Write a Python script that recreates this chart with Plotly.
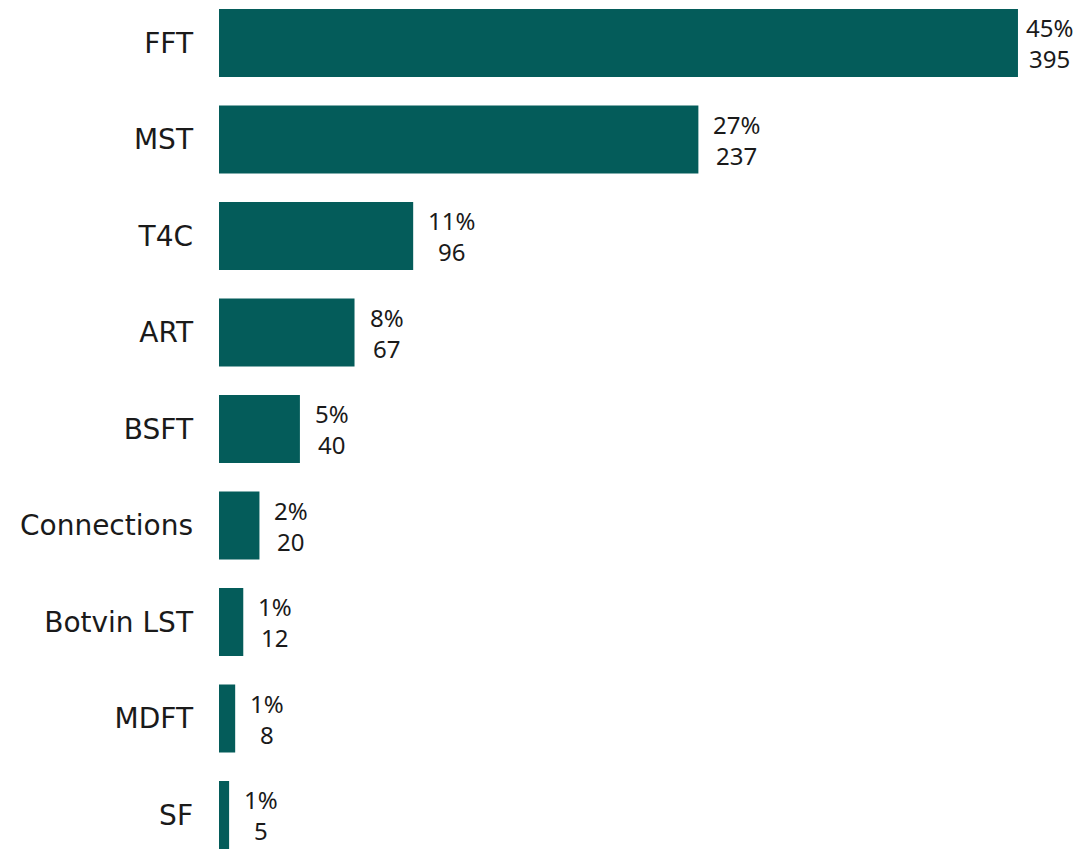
import plotly.graph_objects as go

categories = ["FFT", "MST", "T4C", "ART", "BSFT", "Connections", "Botvin LST", "MDFT", "SF"]
counts = [395, 237, 96, 67, 40, 20, 12, 8, 5]
percents = ["45%", "27%", "11%", "8%", "5%", "2%", "1%", "1%", "1%"]

FONT = "DejaVu Sans, sans-serif"
LABEL_FONT = "Noto Sans, DejaVu Sans, sans-serif"
TXT = "#1a1a1a"

fig = go.Figure(go.Bar(
    x=counts,
    y=categories,
    orientation="h",
    marker=dict(color="#045c5a", line=dict(width=0)),
    width=0.705,
    hoverinfo="x+y",
))

max_count = max(counts)
for cat, c, p in zip(categories, counts, percents):
    fig.add_annotation(
        x=c, y=cat, xref="x", yref="y",
        text=f"{p}<br>{c}",
        showarrow=False,
        xanchor="left", yanchor="middle",
        align="center",
        xshift=6 if c == max_count else 13,
        font=dict(size=24, color=TXT, family=LABEL_FONT),
    )

fig.update_layout(
    width=1084,
    height=849,
    margin=dict(l=211, r=0, t=0, b=0),
    plot_bgcolor="white",
    paper_bgcolor="white",
    showlegend=False,
    font=dict(family=FONT, size=28, color=TXT),
)
fig.update_xaxes(range=[0, 431.6], visible=False, showgrid=False)
fig.update_yaxes(
    categoryorder="array",
    categoryarray=categories,
    range=[8.435, -0.3627],
    showgrid=False,
    showline=False,
    ticks="",
    ticklabelstandoff=25,
    tickfont=dict(size=28, color=TXT, family=FONT),
)

fig.write_html("out.html")
